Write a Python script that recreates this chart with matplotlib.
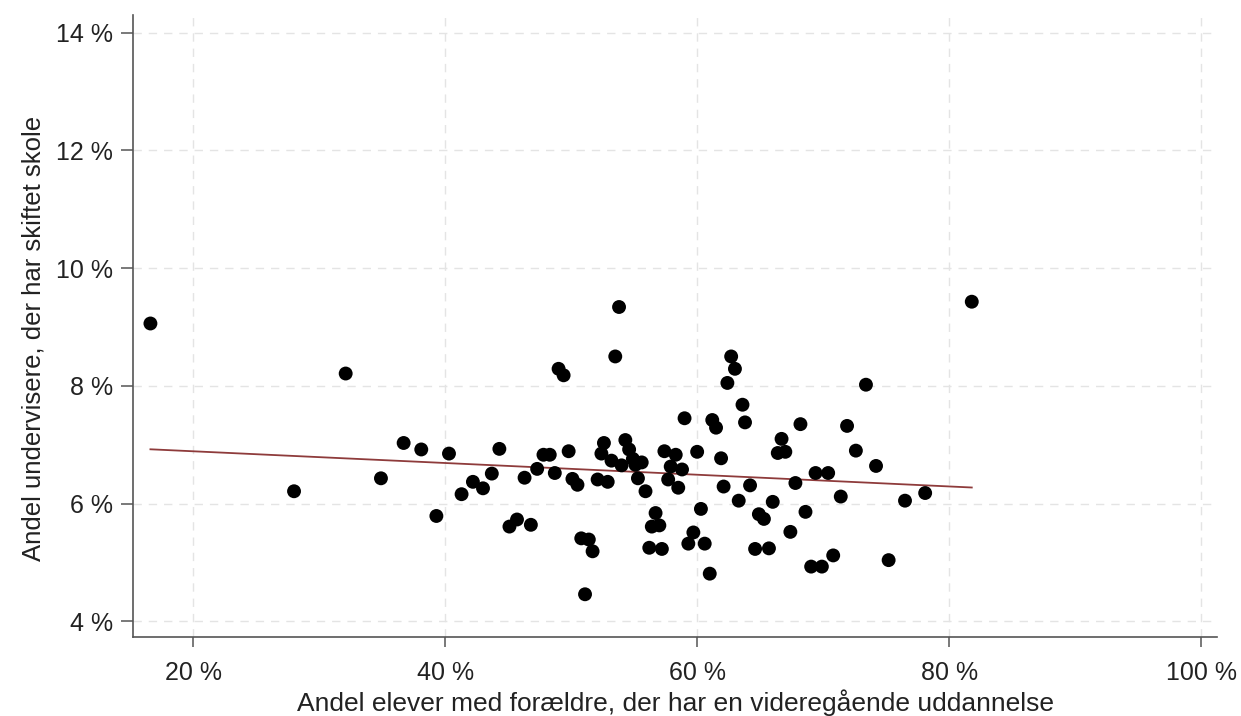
import numpy as np
from matplotlib import pyplot as plt
from matplotlib.ticker import FuncFormatter

plt.rcParams['font.family'] = ['Liberation Sans', 'DejaVu Sans']

# share of pupils whose parents have higher education (%)
foraeldre = [16.6, 32.1, 28.0, 34.9, 36.7, 38.1, 39.3, 40.3, 41.3, 42.2,
             43.0, 43.7, 44.3, 45.1, 45.7, 46.8, 46.3, 47.3, 47.8, 48.3,
             48.7, 49.0, 49.4, 49.8, 50.1, 50.5, 50.8, 51.4, 51.7, 51.1,
             52.1, 52.4, 52.6, 52.9, 53.2, 53.5, 53.8, 54.0, 54.3, 54.6,
             54.9, 55.1, 55.6, 55.3, 55.9, 56.7, 56.4, 57.0, 56.2, 57.2,
             57.4, 58.3, 57.9, 57.7, 58.8, 58.5, 59.0, 60.0, 60.3, 59.7,
             59.3, 60.6, 61.0, 61.2, 61.5, 61.9, 62.1, 62.4, 62.7, 63.0,
             63.3, 63.6, 63.8, 64.2, 64.6, 64.9, 65.3, 65.7, 66.0, 66.4,
             67.0, 66.7, 67.4, 67.8, 68.2, 68.6, 69.05, 69.9, 69.4, 70.4,
             70.8, 71.4, 71.9, 72.6, 73.4, 74.2, 75.2, 76.5, 78.1, 81.8]

# share of teachers who changed school (%)
skiftet = [9.06, 8.21, 6.21, 6.43, 7.03, 6.92, 5.79, 6.85, 6.16, 6.37,
           6.26, 6.51, 6.93, 5.61, 5.73, 5.64, 6.44, 6.59, 6.83, 6.83,
           6.52, 8.29, 8.18, 6.89, 6.42, 6.32, 5.41, 5.39, 5.19, 4.46,
           6.41, 6.85, 7.03, 6.37, 6.73, 8.50, 9.34, 6.65, 7.08, 6.92,
           6.76, 6.66, 6.70, 6.43, 6.21, 5.84, 5.61, 5.63, 5.25, 5.23,
           6.89, 6.83, 6.63, 6.41, 6.58, 6.27, 7.45, 6.88, 5.91, 5.51,
           5.32, 5.32, 4.81, 7.42, 7.29, 6.77, 6.29, 8.05, 8.50, 8.29,
           6.05, 7.68, 7.38, 6.31, 5.23, 5.82, 5.74, 5.24, 6.03, 6.86,
           6.88, 7.10, 5.52, 6.35, 7.35, 5.86, 4.93, 4.93, 6.52, 6.52,
           5.12, 6.12, 7.32, 6.90, 8.02, 6.64, 5.04, 6.05, 6.18, 9.43]

x = np.array(foraeldre)
y = np.array(skiftet)

fig = plt.figure(figsize=(12.41, 7.16), dpi=100)
ax = fig.add_axes([0.107, 0.110, 0.874, 0.869])

# fitted line over the observed range
b, a = np.polyfit(x, y, 1)
xl = np.array([x.min(), x.max()])
ax.plot(xl, a + b * xl, color='#8e3b3b', lw=1.3, zorder=3)
ax.scatter(x, y, s=100, color='black', edgecolors='none', zorder=4)

ax.set_xlim(15.2, 101.3)
ax.set_ylim(3.73, 14.3)
ax.set_xticks([20, 40, 60, 80, 100])
ax.set_yticks([4, 6, 8, 10, 12, 14])
pct = FuncFormatter(lambda v, p: f'{v:.0f} %')
ax.xaxis.set_major_formatter(pct)
ax.yaxis.set_major_formatter(pct)

ax.grid(True, ls=(0, (6, 5)), color='#e4e4e4', lw=1.0)
ax.set_axisbelow(True)
for s in ['top', 'right']:
    ax.spines[s].set_visible(False)
for s in ['left', 'bottom']:
    ax.spines[s].set_color('#555555')
    ax.spines[s].set_linewidth(1.2)
ax.tick_params(direction='out', width=1.1, color='#555555',
               labelsize=18, labelcolor='#222222')
ax.tick_params(axis='x', length=7, pad=10)
ax.tick_params(axis='y', length=8.5, pad=6)

ax.set_xlabel('Andel elever med forældre, der har en videregående uddannelse',
              fontsize=19, color='#222222', labelpad=3)
ax.set_ylabel('Andel undervisere, der har skiftet skole', fontsize=18.5,
              color='#222222', labelpad=7)
ax.yaxis.label.set_y(0.48)

fig.savefig('out.png', dpi=100)
